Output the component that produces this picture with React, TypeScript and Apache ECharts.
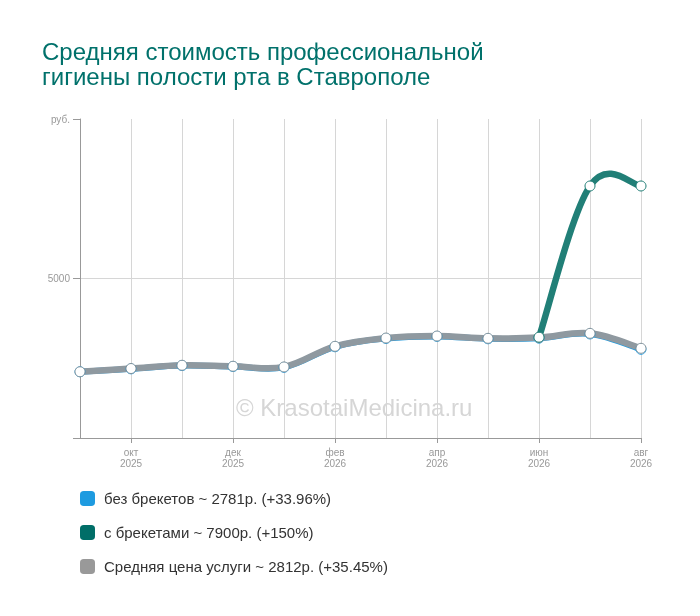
import React, { useEffect, useRef } from "react";
import * as echarts from "echarts";

const months = ["сен\n2025", "окт\n2025", "ноя\n2025", "дек\n2025", "янв\n2026", "фев\n2026", "мар\n2026", "апр\n2026", "май\n2026", "июн\n2026", "июл\n2026", "авг\n2026"];
const withoutBraces: (number | null)[] = [2076, 2168, 2270, 2240, 2215, 2860, 3120, 3185, 3110, 3130, 3262, 2781];
const withBraces: (number | null)[] = [null, null, null, null, null, null, null, null, null, 3160, 7900, 7900];
const average: (number | null)[] = [2076, 2178, 2281, 2250, 2228, 2875, 3134, 3197, 3125, 3147, 3281, 2812];
const seriesLabels = ["без брекетов", "с брекетами", "Средняя цена услуги"];
const yTicks = [0, 5000, 10000];
const yTickLabels = ["", "5000", "руб."];

const FONT = "'Liberation Sans', Arial, sans-serif";
const BLUE = "#1e9be0";
const TEAL = "#006e68";
const GRAY = "#999999";

function makeName(label: string, data: (number | null)[]) {
  const vals = data.filter((v) => v != null) as number[];
  const first = vals[0];
  const last = vals[vals.length - 1];
  const pct = ((last - first) / first) * 100;
  const pctStr = Math.abs(pct - Math.round(pct)) < 0.02 ? String(Math.round(pct)) : pct.toFixed(2);
  return `${label} ~ ${last}р. (+${pctStr}%)`;
}

// Catmull-Rom style smoothing through points (allows overshoot like the reference)
function splinePath(pts: number[][], k: number) {
  if (pts.length === 0) return "";
  let d = `M${pts[0][0]},${pts[0][1]}`;
  for (let i = 0; i < pts.length - 1; i++) {
    const p0 = pts[i - 1] || pts[i];
    const p1 = pts[i];
    const p2 = pts[i + 1];
    const p3 = pts[i + 2] || p2;
    const c1x = p1[0] + (p2[0] - p0[0]) * k;
    const c1y = p1[1] + (p2[1] - p0[1]) * k;
    const c2x = p2[0] - (p3[0] - p1[0]) * k;
    const c2y = p2[1] - (p3[1] - p1[1]) * k;
    d += ` C${c1x},${c1y} ${c2x},${c2y} ${p2[0]},${p2[1]}`;
  }
  return d;
}

function curveSeries(data: (number | null)[], color: string, width: number, z: number) {
  const first = data.findIndex((v) => v != null);
  return {
    type: "custom",
    silent: true,
    z,
    data: [[first, data[first]]],
    renderItem: (_params: any, api: any) => {
      const pts: number[][] = [];
      data.forEach((v, i) => {
        if (v != null) pts.push(api.coord([i, v]));
      });
      return {
        type: "path",
        shape: { pathData: splinePath(pts, 1 / 5.5) },
        style: { fill: null, stroke: color, lineWidth: width, lineJoin: "round", lineCap: "round" },
      };
    },
  };
}

function pointSeries(name: string, data: (number | null)[], border: string, z: number) {
  return {
    name,
    type: "line",
    data,
    color: border,
    lineStyle: { opacity: 0, width: 0 },
    symbol: "circle",
    symbolSize: 10,
    itemStyle: { color: "#fff", borderColor: border, borderWidth: 1 },
    z,
  };
}

export default function App() {
  const ref = useRef<HTMLDivElement>(null);
  useEffect(() => {
    if (!ref.current) return;
    const chart = echarts.init(ref.current, null, { renderer: "svg" });
    const nBlue = makeName(seriesLabels[0], withoutBraces);
    const nTeal = makeName(seriesLabels[1], withBraces);
    const nGray = makeName(seriesLabels[2], average);
    chart.setOption({
      animation: false,
      textStyle: { fontFamily: FONT },
      title: {
        text: "Средняя стоимость профессиональной\nгигиены полости рта в Ставрополе",
        left: 42,
        top: 39,
        padding: 0,
        textStyle: { color: "#00716b", fontSize: 24, fontWeight: "normal", lineHeight: 25, fontFamily: FONT },
      },
      graphic: [
        {
          type: "text",
          left: 236,
          top: 395,
          style: { text: "© KrasotaiMedicina.ru", fill: "#d6d6d6", fontSize: 24, fontFamily: FONT },
          z: 0,
        },
      ],
      legend: {
        orient: "vertical",
        left: 80,
        top: 491,
        padding: 0,
        itemGap: 19,
        itemWidth: 15,
        itemHeight: 15,
        selectedMode: false,
        data: [
          { name: nBlue, icon: "roundRect", itemStyle: { color: BLUE, borderWidth: 0 } },
          { name: nTeal, icon: "roundRect", itemStyle: { color: TEAL, borderWidth: 0 } },
          { name: nGray, icon: "roundRect", itemStyle: { color: GRAY, borderWidth: 0 } },
        ],
        textStyle: { fontSize: 15, color: "#333", fontFamily: FONT, padding: [0, 0, 0, 4] },
      },
      grid: { left: 80, right: 59, top: 119, bottom: 178, containLabel: false },
      xAxis: {
        type: "category",
        boundaryGap: false,
        data: months,
        axisLine: { lineStyle: { color: "#999" } },
        axisTick: { length: 5, interval: (i: number) => i % 2 === 1, lineStyle: { color: "#999" } },
        axisLabel: {
          interval: (i: number) => i % 2 === 1,
          color: "#999",
          fontSize: 10,
          lineHeight: 11,
          margin: 9,
          fontFamily: FONT,
        },
        splitLine: { show: true, interval: 0, lineStyle: { color: "#d6d6d6" } },
      },
      yAxis: {
        type: "value",
        min: 0,
        max: 10000,
        interval: 5000,
        axisLine: { show: true, lineStyle: { color: "#999" } },
        axisTick: { show: true, length: 7, lineStyle: { color: "#999" } },
        axisLabel: {
          color: "#999",
          fontSize: 10,
          margin: 10,
          fontFamily: FONT,
          formatter: (v: number) => yTickLabels[yTicks.indexOf(v)] ?? "",
        },
        splitLine: { show: true, lineStyle: { color: ["transparent", "#d6d6d6", "transparent"] } },
      },
      series: [
        curveSeries(withoutBraces, BLUE, 6, 2),
        curveSeries(average, "#8f99a0", 6.5, 3),
        curveSeries(withBraces, "#217f77", 6.5, 4),
        pointSeries(nBlue, withoutBraces, BLUE, 5),
        pointSeries(nGray, average, "#7f9099", 6),
        pointSeries(nTeal, withBraces, "#1a7a72", 7),
      ],
    });
    return () => chart.dispose();
  }, []);
  return <div ref={ref} style={{ position: "fixed", left: 0, top: 0, width: 700, height: 616 }} />;
}
